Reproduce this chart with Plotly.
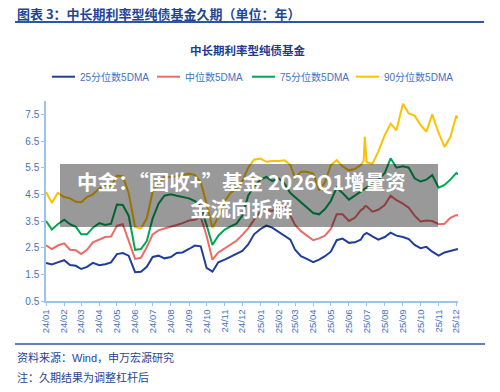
import plotly.graph_objects as go

dates = [
    "2024-01-01", "2024-01-11", "2024-01-21", "2024-02-01", "2024-02-11", "2024-02-21",
    "2024-03-01", "2024-03-11", "2024-03-21", "2024-04-01", "2024-04-11", "2024-04-21",
    "2024-05-01", "2024-05-11", "2024-05-21", "2024-06-01", "2024-06-11", "2024-06-21",
    "2024-07-01", "2024-07-11", "2024-07-21", "2024-08-01", "2024-08-11", "2024-08-21",
    "2024-09-01", "2024-09-11", "2024-09-21", "2024-10-01", "2024-10-11", "2024-10-21",
    "2024-11-01", "2024-11-11", "2024-11-21", "2024-12-01", "2024-12-11", "2024-12-21",
    "2025-01-01", "2025-01-11", "2025-01-21", "2025-02-01", "2025-02-11", "2025-02-21",
    "2025-03-01", "2025-03-11", "2025-03-21", "2025-04-01", "2025-04-11", "2025-04-21",
    "2025-05-01", "2025-05-11", "2025-05-21", "2025-06-01", "2025-06-11", "2025-06-21",
    "2025-06-26", "2025-06-28",
    "2025-07-01", "2025-07-11", "2025-07-21", "2025-08-01", "2025-08-11", "2025-08-21",
    "2025-09-01", "2025-09-11", "2025-09-21", "2025-10-01", "2025-10-11", "2025-10-21",
    "2025-11-01", "2025-11-11", "2025-11-21", "2025-12-01", "2025-12-04",
]

p25 = [1.93, 1.87, 1.95, 2.03, 1.85, 1.82, 1.70, 1.78, 1.93, 1.84, 1.88, 1.95,
       2.26, 2.30, 2.20, 1.58, 1.60, 1.78, 2.15, 2.20, 2.10, 2.15, 2.30, 2.32,
       2.45, 2.58, 2.55, 1.74, 1.60, 1.95, 2.05, 2.15, 2.25, 2.38, 2.62, 3.00,
       3.20, 3.33, 3.25, 3.08, 2.95, 2.80, 2.42, 2.18, 2.08, 1.96, 2.05, 2.18,
       2.35, 2.78, 2.84, 2.68, 2.70, 2.80, 2.98, 3.02,
       3.05, 2.92, 2.80, 2.90, 3.06, 2.95, 2.90, 2.82, 2.60, 2.48, 2.53, 2.35,
       2.20, 2.32, 2.38, 2.42, 2.45]

p50 = [2.59, 2.45, 2.58, 2.66, 2.42, 2.40, 2.26, 2.42, 2.70, 2.82, 2.90, 2.92,
       3.32, 3.38, 2.75, 2.08, 2.12, 2.52, 3.00, 3.15, 3.22, 3.28, 3.35, 3.42,
       3.52, 3.55, 3.65, 2.95, 2.05, 2.32, 2.48, 2.62, 2.76, 2.98, 3.22, 3.55,
       3.85, 3.92, 3.88, 3.98, 4.05, 3.70, 3.35, 3.12, 2.95, 2.78, 2.85, 2.95,
       3.20, 3.75, 3.75, 3.50, 3.62, 3.90, 3.98, 4.05,
       4.05, 3.85, 3.92, 4.10, 4.45, 4.28, 4.15, 4.00, 3.70, 3.48, 3.52, 3.50,
       3.38, 3.40, 3.62, 3.72, 3.70]

p75 = [3.50, 3.18, 3.38, 3.55, 3.38, 3.28, 3.00, 3.00, 3.25, 3.42, 3.35, 3.40,
       4.12, 4.10, 3.70, 2.42, 2.45, 2.75, 3.60, 4.15, 4.45, 4.50, 4.45, 4.40,
       4.35, 4.25, 4.05, 3.35, 2.60, 2.95, 3.18, 3.30, 3.40, 3.70, 4.45, 4.80,
       5.05, 5.15, 5.00, 5.10, 4.90, 4.55, 4.40, 4.20, 4.00, 3.80, 3.75, 3.95,
       4.25, 4.75, 4.55, 4.30, 4.45, 4.60, 4.70, 4.72,
       4.75, 4.90, 5.05, 5.30, 5.85, 5.50, 5.55, 5.50, 5.10, 4.98, 5.05, 5.22,
       4.75, 4.85, 5.05, 5.30, 5.25]

p90 = [4.59, 4.18, 4.55, 4.40, 4.35, 4.22, 4.20, 4.40, 4.50, 4.72, 4.85, 4.80,
       5.20, 5.18, 4.55, 3.28, 3.22, 3.60, 4.60, 4.98, 5.15, 5.15, 5.18, 5.22,
       5.28, 5.22, 4.95, 4.15, 3.25, 3.65, 4.25, 4.55, 4.72, 5.00, 5.50, 5.80,
       5.84, 5.72, 5.75, 5.75, 5.78, 5.60, 5.10, 5.35, 5.35, 5.28, 4.65, 4.95,
       5.60, 5.78, 5.55, 5.40, 5.45, 5.60, 5.75, 6.66,
       5.70, 5.65, 6.10, 6.72, 7.15, 6.90, 7.90, 7.53, 7.45, 7.10, 6.85, 7.50,
       6.80, 6.28, 6.65, 7.45, 7.35]

series_names = ["25分位数5DMA", "中位数5DMA", "75分位数5DMA", "90分位数5DMA"]
series_values = [p25, p50, p75, p90]
series_colors = ["#1F3E9C", "#EE6A67", "#00A650", "#FFC000"]

y_ticks = [0.5, 1.5, 2.5, 3.5, 4.5, 5.5, 6.5, 7.5]

fig_title = "图表 3：中长期利率型纯债基金久期（单位：年）"
chart_title = "中长期利率型纯债基金"
source_text = "资料来源：Wind，申万宏源研究"
note_text = "注：久期结果为调整杠杆后"
overlay_text = "中金：“固收+”基金 2026Q1增量资<br>金流向拆解"

CJK = "Liberation Sans, Noto Sans CJK SC, sans-serif"
TICK_BLUE = "#4472C4"
DARK_BLUE = "#1F4596"
AXIS_BLUE = "#9DC3E6"

W, H = 500, 392
L, R, T, B = 46, 42, 101, 91


def to_paper_x(xpx):
    return (xpx - L) / (W - L - R)


def to_paper_y(ypx):
    return (H - B - ypx) / (H - T - B)


fig = go.Figure()
for name, vals, col in zip(series_names, series_values, series_colors):
    fig.add_trace(go.Scatter(x=dates, y=vals, mode="lines", name=name,
                             line=dict(color=col, width=2), showlegend=False))

fig.update_layout(
    width=W, height=H,
    margin=dict(l=L, r=R, t=T, b=B, autoexpand=False),
    paper_bgcolor="white", plot_bgcolor="white",
    font=dict(family=CJK, color=TICK_BLUE, size=10),
    showlegend=False,
    xaxis=dict(type="date", range=["2024-01-01", "2025-12-04"],
               tick0="2024-01-01", dtick="M1", tickformat="%y/%m",
               tickangle=-90, tickfont=dict(size=9.5, color=TICK_BLUE),
               showgrid=False, zeroline=False, showline=True, automargin=False,
               linecolor=AXIS_BLUE, linewidth=1.5,
               ticks="outside", ticklen=3, tickcolor=AXIS_BLUE),
    yaxis=dict(range=[0.5, 8.0], tickvals=y_ticks,
               ticktext=[f"{v:.1f}" for v in y_ticks],
               tickfont=dict(size=10, color=TICK_BLUE),
               showgrid=False, zeroline=False, showline=True, automargin=False,
               linecolor=AXIS_BLUE, linewidth=1.5,
               ticks="outside", ticklen=3, tickcolor=AXIS_BLUE),
)

ann = [
    dict(text=f"<b>{fig_title}</b>", x=to_paper_x(15), y=to_paper_y(14),
         xanchor="left", yanchor="middle",
         font=dict(size=13, color=DARK_BLUE, family="Noto Sans CJK SC")),
    dict(text=f"<b>{chart_title}</b>", x=to_paper_x(247), y=to_paper_y(50),
         xanchor="center", yanchor="middle",
         font=dict(size=11.5, color="#1F3A8F", family="Noto Sans CJK SC")),
    dict(text=source_text, x=to_paper_x(15), y=to_paper_y(357),
         xanchor="left", yanchor="middle",
         font=dict(size=11, color=DARK_BLUE, family=CJK)),
    dict(text=note_text, x=to_paper_x(15), y=to_paper_y(377),
         xanchor="left", yanchor="middle",
         font=dict(size=11, color=DARK_BLUE, family=CJK)),
    dict(text=f"<b>{overlay_text}</b>", x=to_paper_x(241), y=to_paper_y(194),
         xanchor="center", yanchor="middle", align="center",
         font=dict(size=20.5, color="white", family="Noto Sans CJK SC")),
]

shapes = [
    dict(type="line", x0=to_paper_x(15), x1=to_paper_x(484),
         y0=to_paper_y(22), y1=to_paper_y(22), line=dict(color="#2F55A8", width=2)),
    dict(type="line", x0=to_paper_x(15), x1=to_paper_x(485),
         y0=to_paper_y(344), y1=to_paper_y(344), line=dict(color="#2F55A8", width=1.5)),
    dict(type="rect", x0=to_paper_x(60), x1=to_paper_x(438),
         y0=to_paper_y(227), y1=to_paper_y(164), fillcolor="rgba(0,0,0,0.4)",
         line=dict(width=0), layer="above"),
]

# manual legend (single row, as in the reference)
legend_x = [52, 157, 252, 356]
for name, col, lx in zip(series_names, series_colors, legend_x):
    shapes.append(dict(type="line", x0=to_paper_x(lx), x1=to_paper_x(lx + 23),
                       y0=to_paper_y(76.7), y1=to_paper_y(76.7),
                       line=dict(color=col, width=2)))
    ann.append(dict(text=name, x=to_paper_x(lx + 26), y=to_paper_y(76.7),
                    xanchor="left", yanchor="middle",
                    font=dict(size=10, color=TICK_BLUE, family=CJK)))

for a in ann:
    a.update(xref="paper", yref="paper", showarrow=False)
for s in shapes:
    s.update(xref="paper", yref="paper")

fig.update_layout(annotations=ann, shapes=shapes)

fig.write_html("out.html",
               config={"displayModeBar": False},
               post_script="document.body.style.margin='0';document.body.style.padding='0';")
